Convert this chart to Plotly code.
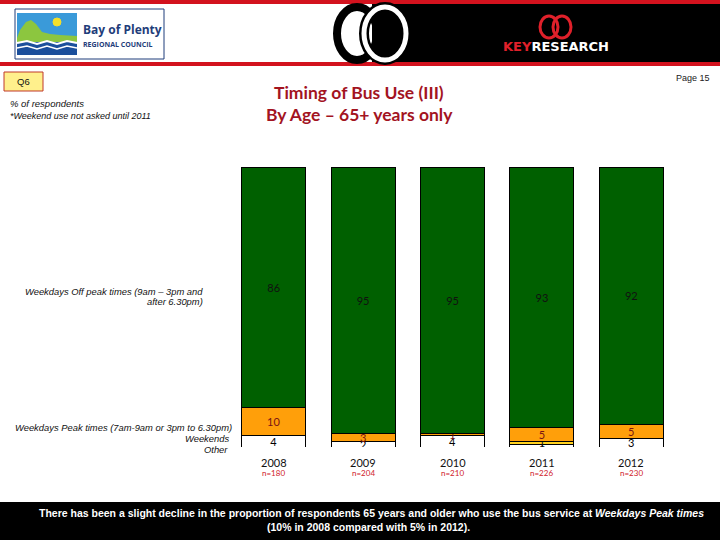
import plotly.graph_objects as go

years = ["2008", "2009", "2010", "2011", "2012"]
n_labels = ["n=180", "n=204", "n=210", "n=226", "n=230"]
other = [4, 2, 4, 1, 3]
weekends = [0, 0, 0, 1, 0]
peak = [10, 3, 1, 5, 5]
offpeak = [86, 95, 95, 93, 92]

series_names = ["Other", "Weekends", "Weekdays Peak times", "Weekdays Off peak times"]
series_vals = [other, weekends, peak, offpeak]
series_colors = ["#FFFFFF", "#FFD21F", "#FF9F0A", "#006000"]
text_colors = ["#000000", "#111111", "#7A1414", "#111111"]

W, H = 720, 540
L, R, T, B = 229, 44, 167, 93
pw, ph = W - L - R, H - T - B


def px(x):
    return (x - L) / pw


def py(y):
    return 1 - (y - T) / ph


fig = go.Figure()
for name, vals, col, tc in zip(series_names, series_vals, series_colors, text_colors):
    fig.add_trace(go.Bar(
        x=years, y=vals, name=name,
        marker=dict(color=col, line=dict(color="#000000", width=1)),
        text=[str(v) if v else "" for v in vals],
        textposition="inside", insidetextanchor="middle",
        constraintext="none", textangle=0,
        textfont=dict(family="Lato, Carlito, sans-serif", size=11, color=tc),
        hoverinfo="skip",
    ))

shapes = []
annotations = []

# header bands
shapes.append(dict(type="rect", xref="paper", yref="paper", x0=px(0), x1=px(720), y0=py(0), y1=py(4),
                   fillcolor="#D3121E", line=dict(width=0), layer="above"))
shapes.append(dict(type="rect", xref="paper", yref="paper", x0=px(0), x1=px(720), y0=py(62), y1=py(66),
                   fillcolor="#D3121E", line=dict(width=0), layer="above"))
shapes.append(dict(type="rect", xref="paper", yref="paper", x0=px(372), x1=px(720), y0=py(4), y1=py(62),
                   fillcolor="#000000", line=dict(width=0), layer="above"))
# interlocking rings logo
shapes.append(dict(type="circle", xref="paper", yref="paper", x0=px(337), x1=px(377), y0=py(7), y1=py(60),
                   line=dict(color="#000000", width=8), layer="above"))
shapes.append(dict(type="circle", xref="paper", yref="paper", x0=px(364), x1=px(406), y0=py(7), y1=py(60),
                   line=dict(color="#000000", width=10), layer="above"))
shapes.append(dict(type="circle", xref="paper", yref="paper", x0=px(364), x1=px(406), y0=py(7), y1=py(60),
                   line=dict(color="#FFFFFF", width=5), layer="above"))
# key research red rings
shapes.append(dict(type="circle", xref="paper", yref="paper", x0=px(540), x1=px(558), y0=py(16), y1=py(38),
                   line=dict(color="#E0202A", width=3), layer="above"))
shapes.append(dict(type="circle", xref="paper", yref="paper", x0=px(553), x1=px(571), y0=py(16), y1=py(38),
                   line=dict(color="#E0202A", width=3), layer="above"))

# Bay of Plenty logo
shapes.append(dict(type="rect", xref="paper", yref="paper", x0=px(15), x1=px(164), y0=py(9), y1=py(59),
                   fillcolor="#FFFFFF", line=dict(color="#1F3D7A", width=1), layer="above"))
shapes.append(dict(type="rect", xref="paper", yref="paper", x0=px(17), x1=px(77), y0=py(13), y1=py(55),
                   fillcolor="#3A9AD9", line=dict(width=0), layer="above"))


def path(points, close=True):
    s = "M " + " L ".join(f"{px(x)},{py(y)}" for x, y in points)
    return s + (" Z" if close else "")


shapes.append(dict(type="path", xref="paper", yref="paper",
                   path=path([(17, 38), (20, 30), (26, 22), (31, 20), (36, 24), (42, 32), (50, 34), (60, 35), (77, 36), (77, 42), (17, 42)]),
                   fillcolor="#8CC63F", line=dict(width=0), layer="above"))
shapes.append(dict(type="circle", xref="paper", yref="paper", x0=px(53), x1=px(61), y0=py(18), y1=py(26),
                   fillcolor="#F5E02A", line=dict(color="#F5E02A", width=1), layer="above"))
shapes.append(dict(type="rect", xref="paper", yref="paper", x0=px(17), x1=px(77), y0=py(42), y1=py(55),
                   fillcolor="#1B4F9C", line=dict(width=0), layer="above"))
shapes.append(dict(type="path", xref="paper", yref="paper",
                   path=path([(17, 43), (27, 41), (37, 44), (47, 41), (57, 44), (67, 41), (77, 43)], False),
                   line=dict(color="#FFFFFF", width=2), layer="above"))
shapes.append(dict(type="path", xref="paper", yref="paper",
                   path=path([(17, 48), (27, 46), (37, 49), (47, 46), (57, 49), (67, 46), (77, 48)], False),
                   line=dict(color="#FFFFFF", width=1.5), layer="above"))

# Q6 box
shapes.append(dict(type="rect", xref="paper", yref="paper", x0=px(4), x1=px(43), y0=py(72), y1=py(91),
                   fillcolor="#FFF08C", line=dict(color="#C0392B", width=1), layer="above"))
# footer
shapes.append(dict(type="rect", xref="paper", yref="paper", x0=px(0), x1=px(720), y0=py(502), y1=py(540),
                   fillcolor="#000000", line=dict(width=0), layer="above"))


def ann(text, x, y, size, color="#111111", family="Liberation Sans, Arial, sans-serif", xanchor="left",
        yanchor="middle", align="left", xref="paper"):
    annotations.append(dict(text=text, x=(px(x) if xref == "paper" else x), y=py(y), xref=xref, yref="paper",
                            showarrow=False, xanchor=xanchor, yanchor=yanchor, align=align,
                            font=dict(size=size, color=color, family=family)))


ann("<b>Bay of Plenty</b>", 81, 29, 12, "#1F3D7A", "Open Sans, sans-serif")
ann("<b>REGIONAL COUNCIL</b>", 81, 44, 7, "#1F3D7A", "Open Sans, sans-serif")
ann("<b><span style='color:#E0202A'>KEY</span>RESEARCH</b>", 556, 47, 13, "#FFFFFF",
    "DejaVu Sans, sans-serif", xanchor="center")

ann("Q6", 23.5, 81.5, 9.5, "#111111", xanchor="center")
ann("<i>% of respondents</i>", 8, 104, 9.5)
ann("<i>*Weekend use not asked until 2011</i>", 8, 116, 9)
ann("Page 15", 712, 78, 9, "#222222", xanchor="right")

ann("<b>Timing of Bus Use (III)</b>", 359, 92, 17.5, "#A3141F", "Lato, Carlito, sans-serif", xanchor="center")
ann("<b>By Age – 65+ years only</b>", 359, 114, 17.5, "#A3141F", "Lato, Carlito, sans-serif", xanchor="center")

ann("<i>Weekdays Off peak times (9am – 3pm and</i>", 205, 291, 9.4, xanchor="right")
ann("<i>after 6.30pm)</i>", 205, 301, 9.4, xanchor="right")
ann("<i>Weekdays Peak times (7am-9am or 3pm to 6.30pm)</i>", 234, 427, 9.4, xanchor="right")
ann("<i>Weekends</i>", 231, 438, 9.4, xanchor="right")
ann("<i>Other</i>", 230, 449, 9.4, xanchor="right")

for i, (yr, nl) in enumerate(zip(years, n_labels)):
    ann(yr, i, 462, 11, "#111111", "Lato, Carlito, sans-serif", xanchor="center", xref="x")
    ann(nl, i, 473, 8, "#D0202A", "Lato, Carlito, sans-serif", xanchor="center", xref="x")

ann("<b>There has been a slight decline in the proportion of respondents 65 years and older who use the bus service at <i>Weekdays Peak times</i></b>",
    371, 513, 10.5, "#FFFFFF", "Liberation Sans, Arial, sans-serif", xanchor="center")
ann("<b>(10% in 2008 compared with 5% in 2012).</b>", 368, 527, 10.5, "#FFFFFF",
    "Liberation Sans, Arial, sans-serif", xanchor="center")

fig.update_layout(
    width=W, height=H, autosize=False,
    margin=dict(l=L, r=R, t=T, b=B, pad=0),
    paper_bgcolor="#FFFFFF", plot_bgcolor="#FFFFFF",
    barmode="stack", bargap=0.284,
    showlegend=False,
    xaxis=dict(type="category", showticklabels=False, showgrid=False, zeroline=False, showline=False,
               ticks="", range=[-0.5, 4.5]),
    yaxis=dict(range=[0, 100], showticklabels=False, showgrid=False, zeroline=False, showline=False, ticks=""),
    shapes=shapes, annotations=annotations,
)

fig.write_html("out.html", config={"displayModeBar": False},
               post_script="document.body.style.margin='0';document.body.style.overflow='hidden';")
